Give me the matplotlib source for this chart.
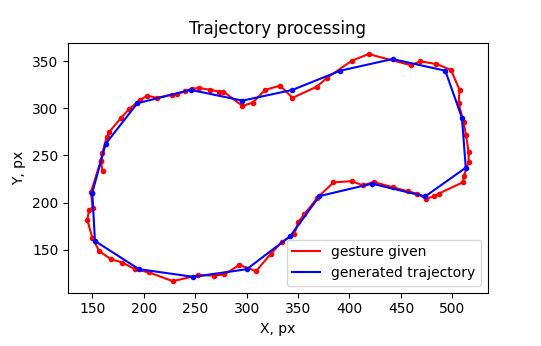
import matplotlib
matplotlib.use("Agg")
import matplotlib.pyplot as plt

# gesture given (red)
gesture_x = [160.1, 158.2, 159.7, 164.0, 166.5, 178.0, 186.0, 196.4, 203.5, 212.6,
             227.2, 232.7, 240.2, 246.7, 254.1, 264.5, 273.5, 277.4, 296.0, 306.0,
             318.0, 332.6, 344.6, 368.3, 378.0, 402.3, 418.5, 459.5, 469.0, 484.5,
             498.6, 507.0, 506.0, 510.9, 513.2, 515.8, 515.8, 510.9, 510.6, 486.6,
             481.7, 474.3, 465.6, 456.8, 441.8, 423.4, 413.0, 402.3, 384.4, 368.9,
             356.0, 350.4, 346.2, 334.5, 323.5, 309.2, 293.0, 278.4, 268.4, 253.1,
             228.2, 205.4, 191.5, 179.2, 168.2, 156.8, 150.0, 145.1, 147.1, 150.4,
             148.7, 158.2]
gesture_y = [233.0, 244.0, 252.4, 269.4, 275.0, 290.0, 299.5, 309.0, 313.6, 311.2,
             314.7, 315.4, 318.3, 320.8, 321.8, 319.7, 317.9, 317.9, 302.7, 306.2,
             319.7, 324.2, 311.2, 323.2, 332.4, 350.7, 357.8, 346.0, 350.0, 347.2,
             341.0, 319.7, 305.5, 285.3, 272.0, 253.5, 242.9, 227.7, 221.7, 209.4,
             206.5, 204.0, 209.4, 211.8, 216.4, 221.7, 218.2, 222.7, 221.4, 205.1,
             187.4, 179.3, 166.2, 158.3, 145.5, 127.0, 133.7, 123.5, 122.4, 122.7,
             116.4, 125.6, 129.1, 136.2, 139.7, 148.2, 162.7, 181.8, 192.4, 194.5,
             211.0, 244.0]

# generated trajectory (blue)
traj_x = [150.0, 163.0, 193.8, 245.7, 296.0, 344.6, 391.0, 441.8, 493.1, 509.3,
          513.0, 473.6, 421.8, 370.8, 342.3, 300.2, 248.3, 195.4, 152.6, 150.0]
traj_y = [210.4, 262.3, 305.5, 319.7, 308.3, 319.7, 340.1, 352.5, 340.1, 290.0,
          237.0, 206.5, 220.0, 206.8, 164.1, 129.1, 121.0, 129.1, 159.1, 210.4]

fig = plt.figure(figsize=(5.41, 3.46), dpi=100)
fig.subplots_adjust(left=0.126, right=0.9015, bottom=0.1546, top=0.8766)
ax = fig.add_subplot(111)

ax.plot(gesture_x, gesture_y, c="red", label="gesture given")
ax.plot(gesture_x, gesture_y, "r.")
ax.plot(traj_x, traj_y, c="blue", label="generated trajectory")
ax.plot(traj_x, traj_y, "b.")

ax.set_xlabel("X, px")
ax.set_ylabel("Y, px")
ax.set_title("Trajectory processing")
ax.legend(loc="lower right")

fig.savefig("out.png", dpi=100)
